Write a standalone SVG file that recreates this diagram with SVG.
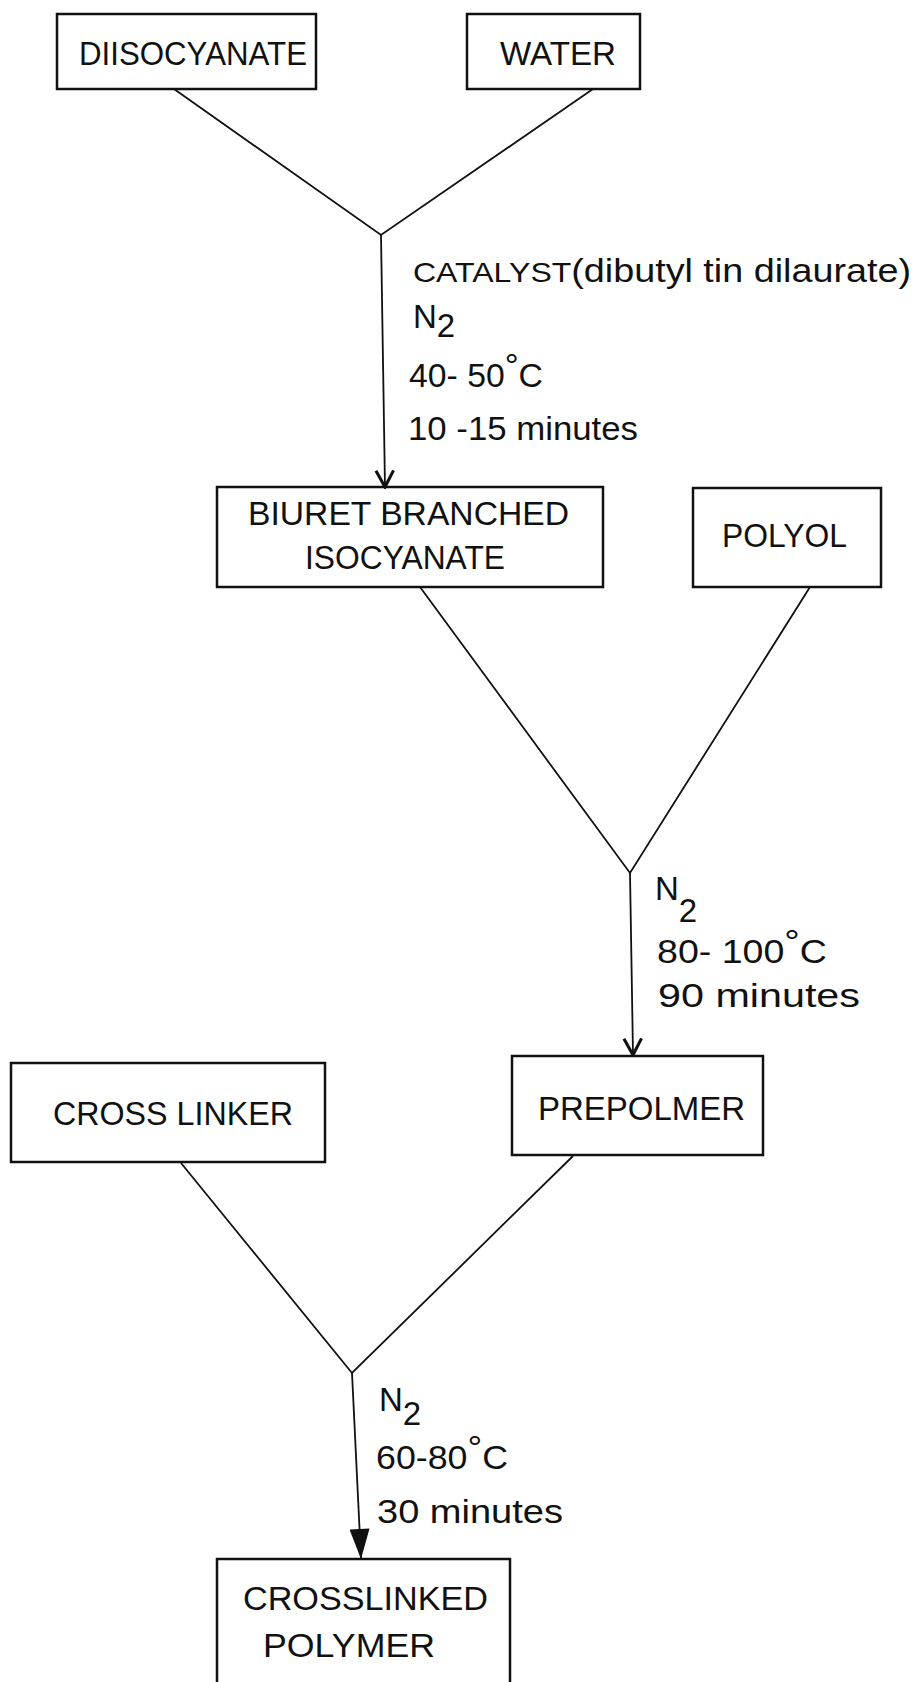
<svg xmlns="http://www.w3.org/2000/svg" width="920" height="1682" viewBox="0 0 920 1682">
<style>
.box{fill:none;stroke:#111;stroke-width:2.5}
.lbl{font-family:"Liberation Sans",Arial,sans-serif;font-size:33px;fill:#111}
.cond{font-family:"Liberation Sans",Arial,sans-serif;font-size:33px;fill:#111}
.deg{font-size:34px}
.ln{fill:none;stroke:#111;stroke-width:1.8}
</style>
<defs>
<marker id="openV" viewBox="0 0 20 20" markerWidth="22" markerHeight="22" refX="18" refY="10" orient="auto" markerUnits="userSpaceOnUse">
<path d="M3,2 L18,10 L3,18" fill="none" stroke="#111" stroke-width="2.8"/>
</marker>
<marker id="solid" viewBox="0 0 30 20" markerWidth="31" markerHeight="20" refX="30" refY="10" orient="auto" markerUnits="userSpaceOnUse">
<path d="M0,0 L30,10 L0,20 z" fill="#111"/>
</marker>
</defs>
<rect width="920" height="1682" fill="#fff"/>

<g id="connectors">
<polyline class="ln" points="174,89 381,235 593,89"/>
<line class="ln" x1="381" y1="235" x2="385" y2="487" marker-end="url(#openV)"/>
<polyline class="ln" points="420,587 630,873 810,587"/>
<line class="ln" x1="630" y1="873" x2="633" y2="1055" marker-end="url(#openV)"/>
<polyline class="ln" points="181,1163 352,1373 573,1156"/>
<line class="ln" x1="352" y1="1373" x2="361" y2="1559" marker-end="url(#solid)"/>
</g>

<g id="diisocyanate">
<rect class="box" x="57" y="14" width="259" height="75"/>
<text class="lbl" x="79" y="65" textLength="228" lengthAdjust="spacingAndGlyphs">DIISOCYANATE</text>
</g>
<g id="water">
<rect class="box" x="467" y="14" width="173" height="75"/>
<text class="lbl" x="500" y="65" textLength="116" lengthAdjust="spacingAndGlyphs">WATER</text>
</g>
<g id="cond1">
<text class="cond" x="413" y="282" textLength="498" lengthAdjust="spacingAndGlyphs"><tspan font-size="28">CATALYST</tspan>(dibutyl tin dilaurate)</text>
<text class="cond" x="413" y="328">N<tspan dy="9">2</tspan></text>
<text class="cond" x="409" y="387" textLength="134" lengthAdjust="spacingAndGlyphs">40- 50<tspan class="deg" dy="-10">°</tspan><tspan dy="10">C</tspan></text>
<text class="cond" x="408" y="440" textLength="230" lengthAdjust="spacingAndGlyphs">10 -15 minutes</text>
</g>
<g id="biuret">
<rect class="box" x="217" y="487" width="386" height="100"/>
<text class="lbl" x="248" y="525" textLength="321" lengthAdjust="spacingAndGlyphs">BIURET BRANCHED</text>
<text class="lbl" x="305" y="569" textLength="200" lengthAdjust="spacingAndGlyphs">ISOCYANATE</text>
</g>
<g id="polyol">
<rect class="box" x="693" y="488" width="188" height="99"/>
<text class="lbl" x="722" y="547" textLength="125" lengthAdjust="spacingAndGlyphs">POLYOL</text>
</g>
<g id="cond2">
<text class="cond" x="655" y="900">N<tspan dy="22">2</tspan></text>
<text class="cond" x="657" y="963" textLength="170" lengthAdjust="spacingAndGlyphs">80- 100<tspan class="deg" dy="-10">°</tspan><tspan dy="10">C</tspan></text>
<text class="cond" x="658" y="1007" textLength="202" lengthAdjust="spacingAndGlyphs">90  minutes</text>
</g>
<g id="crosslinker">
<rect class="box" x="11" y="1063" width="314" height="99"/>
<text class="lbl" x="53" y="1125" textLength="240" lengthAdjust="spacingAndGlyphs">CROSS LINKER</text>
</g>
<g id="prepolmer">
<rect class="box" x="512" y="1056" width="251" height="99"/>
<text class="lbl" x="538" y="1120" textLength="207" lengthAdjust="spacingAndGlyphs">PREPOLMER</text>
</g>
<g id="cond3">
<text class="cond" x="379" y="1411">N<tspan dy="14">2</tspan></text>
<text class="cond" x="376" y="1469" textLength="132" lengthAdjust="spacingAndGlyphs">60-80<tspan class="deg" dy="-10">°</tspan><tspan dy="10">C</tspan></text>
<text class="cond" x="377" y="1523" textLength="186" lengthAdjust="spacingAndGlyphs">30 minutes</text>
</g>
<g id="crosslinked">
<rect class="box" x="217" y="1559" width="293" height="150"/>
<text class="lbl" x="243" y="1610" textLength="245" lengthAdjust="spacingAndGlyphs">CROSSLINKED</text>
<text class="lbl" x="263" y="1657" textLength="172" lengthAdjust="spacingAndGlyphs">POLYMER</text>
</g>
</svg>
